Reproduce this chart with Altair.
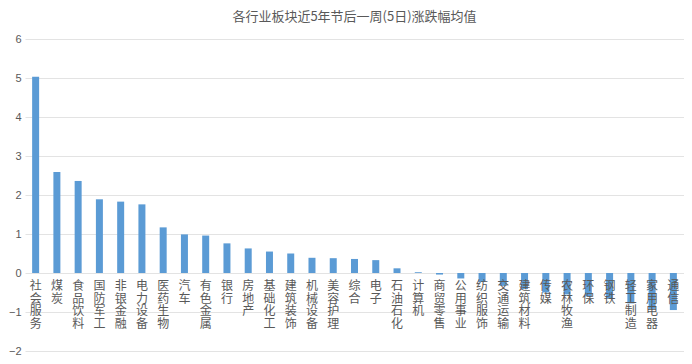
import altair as alt
import pandas as pd

title = "各行业板块近5年节后一周(5日)涨跌幅均值"

industries = [
    "社会服务", "煤炭", "食品饮料", "国防军工", "非银金融", "电力设备", "医药生物",
    "汽车", "有色金属", "银行", "房地产", "基础化工", "建筑装饰", "机械设备",
    "美容护理", "综合", "电子", "石油石化", "计算机", "商贸零售", "公用事业",
    "纺织服饰", "交通运输", "建筑材料", "传媒", "农林牧渔", "环保", "钢铁",
    "轻工制造", "家用电器", "通信",
]
values = [
    5.03, 2.59, 2.36, 1.89, 1.83, 1.76, 1.17,
    0.99, 0.96, 0.76, 0.63, 0.55, 0.50, 0.39,
    0.38, 0.36, 0.33, 0.12, 0.02, -0.04, -0.14,
    -0.23, -0.33, -0.41, -0.50, -0.55, -0.60, -0.66,
    -0.78, -0.92, -0.95,
]
y_ticks = [-2, -1, 0, 1, 2, 3, 4, 5, 6]

df = pd.DataFrame({
    "industry": industries,
    "value": values,
    "label": ["\n".join(list(s)) for s in industries],
})

FONT = "Noto Sans CJK SC"
GRAY = "#595959"

x_enc = alt.X("industry:N", sort=None, title=None,
              scale=alt.Scale(paddingInner=0.0, paddingOuter=0.0),
              axis=None)
y_scale = alt.Scale(domain=[-2, 6], nice=False, zero=False)

bars = alt.Chart(df).mark_bar(size=7, color="#5B9BD5").encode(
    x=x_enc,
    y=alt.Y("value:Q", title=None, scale=y_scale,
            axis=alt.Axis(values=y_ticks, ticks=False, domain=False,
                          gridColor="#e3e3e3", gridWidth=1,
                          labelColor=GRAY, labelFontSize=11, labelFont="Liberation Sans",
                          labelPadding=4, labelOverlap=False)),
)

labels = alt.Chart(df).transform_calculate(base="0").mark_text(
    baseline="top", align="center", dy=8, fontSize=12, lineHeight=12.5,
    lineBreak="\n", color=GRAY, font=FONT,
).encode(
    x=x_enc,
    y=alt.Y("base:Q", scale=y_scale, axis=None),
    text="label:N",
)

chart = alt.layer(bars, labels).resolve_axis(y="independent").properties(
    width=659,
    height=312,
    padding={"left": 17, "top": 31, "right": 0, "bottom": 14},
    autosize=alt.AutoSizeParams(type="none"),
    title=alt.TitleParams(title, fontSize=13, font=FONT, color=GRAY,
                          fontWeight="normal", offset=9, anchor="middle"),
).configure_view(stroke=None)

chart.save("out.html", embed_options={"renderer": "svg", "actions": False})
